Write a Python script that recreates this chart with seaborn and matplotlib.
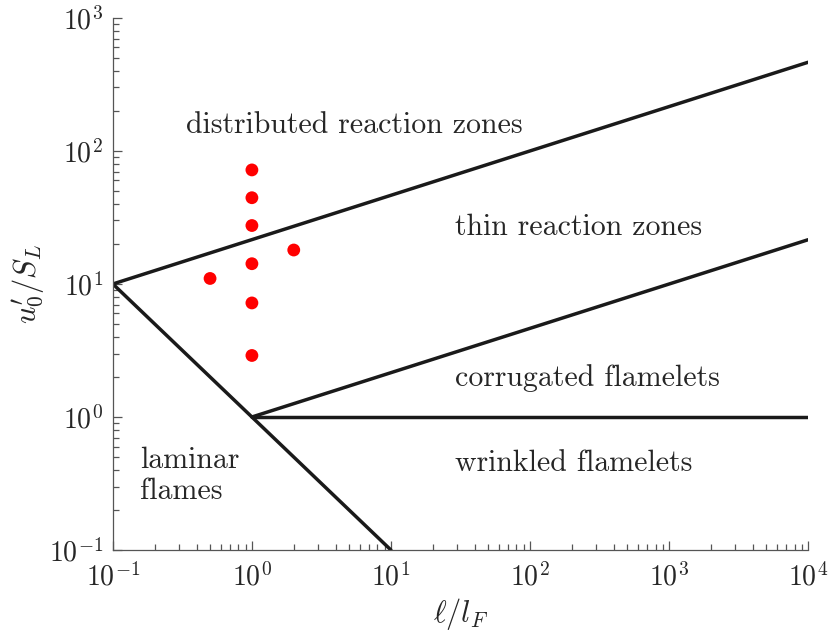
import numpy as np
import pandas as pd
import matplotlib
matplotlib.use("Agg")
import matplotlib.pyplot as plt
import seaborn as sns
from matplotlib.ticker import LogLocator, NullFormatter

# regime boundaries (endpoints in l/lF, u'/SL)
ka100_x = [0.1, 1e4]
ka100_y = [10.0, 464.0]
ka1_x = [1.0, 1e4]
ka1_y = [1.0, 21.5]
re1_x = [0.1, 10.0]
re1_y = [10.0, 0.1]
unity_x = [1.0, 1e4]
unity_y = [1.0, 1.0]

# operating points
pts_x = [0.5, 1, 1, 1, 1, 1, 1, 2]
pts_y = [11.0, 2.9, 7.2, 14.2, 27.5, 44.5, 72.0, 18.0]

regions = ["distributed reaction zones", "thin reaction zones",
           "corrugated flamelets", "wrinkled flamelets", "laminar\nflames"]


def main():
    sns.set_theme(style="ticks")
    plt.rcParams['font.family'] = ['cmr10', 'DejaVu Serif']
    plt.rcParams['mathtext.fontset'] = 'cm'
    plt.rcParams['axes.formatter.use_mathtext'] = True

    fig = plt.figure(figsize=(8.3, 6.4), dpi=100)
    ax = fig.add_axes([0.136, 0.1406, 0.8375, 0.8314])

    lines = pd.DataFrame({
        "x": ka100_x + ka1_x + re1_x + unity_x,
        "y": ka100_y + ka1_y + re1_y + unity_y,
        "b": ["ka100"] * 2 + ["ka1"] * 2 + ["re1"] * 2 + ["one"] * 2,
    })
    sns.lineplot(data=lines, x="x", y="y", units="b", estimator=None,
                 sort=False, color="k", lw=2.5, ax=ax, legend=False)
    sns.scatterplot(x=pts_x, y=pts_y, color="red", s=85, edgecolor="none",
                    ax=ax, zorder=5)

    ax.set_xscale("log")
    ax.set_yscale("log")
    ax.set_xlim(0.1, 1e4)
    ax.set_ylim(0.1, 1e3)

    spine = "#555555"
    grey = "#262626"
    for s in ["top", "right"]:
        ax.spines[s].set_visible(False)
    for s in ["left", "bottom"]:
        ax.spines[s].set_color(spine)
        ax.spines[s].set_linewidth(0.9)
    ax.xaxis.set_major_locator(LogLocator(base=10, numticks=10))
    ax.yaxis.set_major_locator(LogLocator(base=10, numticks=10))
    ax.xaxis.set_minor_locator(LogLocator(base=10, subs=np.arange(2, 10), numticks=20))
    ax.yaxis.set_minor_locator(LogLocator(base=10, subs=np.arange(2, 10), numticks=20))
    ax.xaxis.set_minor_formatter(NullFormatter())
    ax.yaxis.set_minor_formatter(NullFormatter())
    ax.tick_params(which="major", direction="in", length=6.5, width=0.9,
                   color=spine, labelcolor=grey, labelsize=20)
    ax.tick_params(which="minor", direction="in", length=4, width=0.9, color=spine)
    ax.tick_params(axis="x", which="major", pad=9)
    ax.tick_params(axis="y", which="major", pad=7)

    ax.set_xlabel(r"$\ell/l_F$", fontsize=22, color=grey, labelpad=3)
    ax.set_ylabel(r"$u_0'/S_L$", fontsize=22, color=grey, labelpad=2)

    fs = 21.5
    ax.text(5.42, 157, regions[0], fontsize=fs, ha="center", va="center")
    ax.text(28.8, 26.8, regions[1], fontsize=fs, ha="left", va="center")
    ax.text(28.8, 1.96, regions[2], fontsize=fs, ha="left", va="center")
    ax.text(28.8, 0.451, regions[3], fontsize=fs, ha="left", va="center")
    ax.text(0.156, 0.36, regions[4], fontsize=fs, ha="left", va="center",
            linespacing=1.15)

    fig.savefig("out.png", dpi=100)


if __name__ == "__main__":
    main()
